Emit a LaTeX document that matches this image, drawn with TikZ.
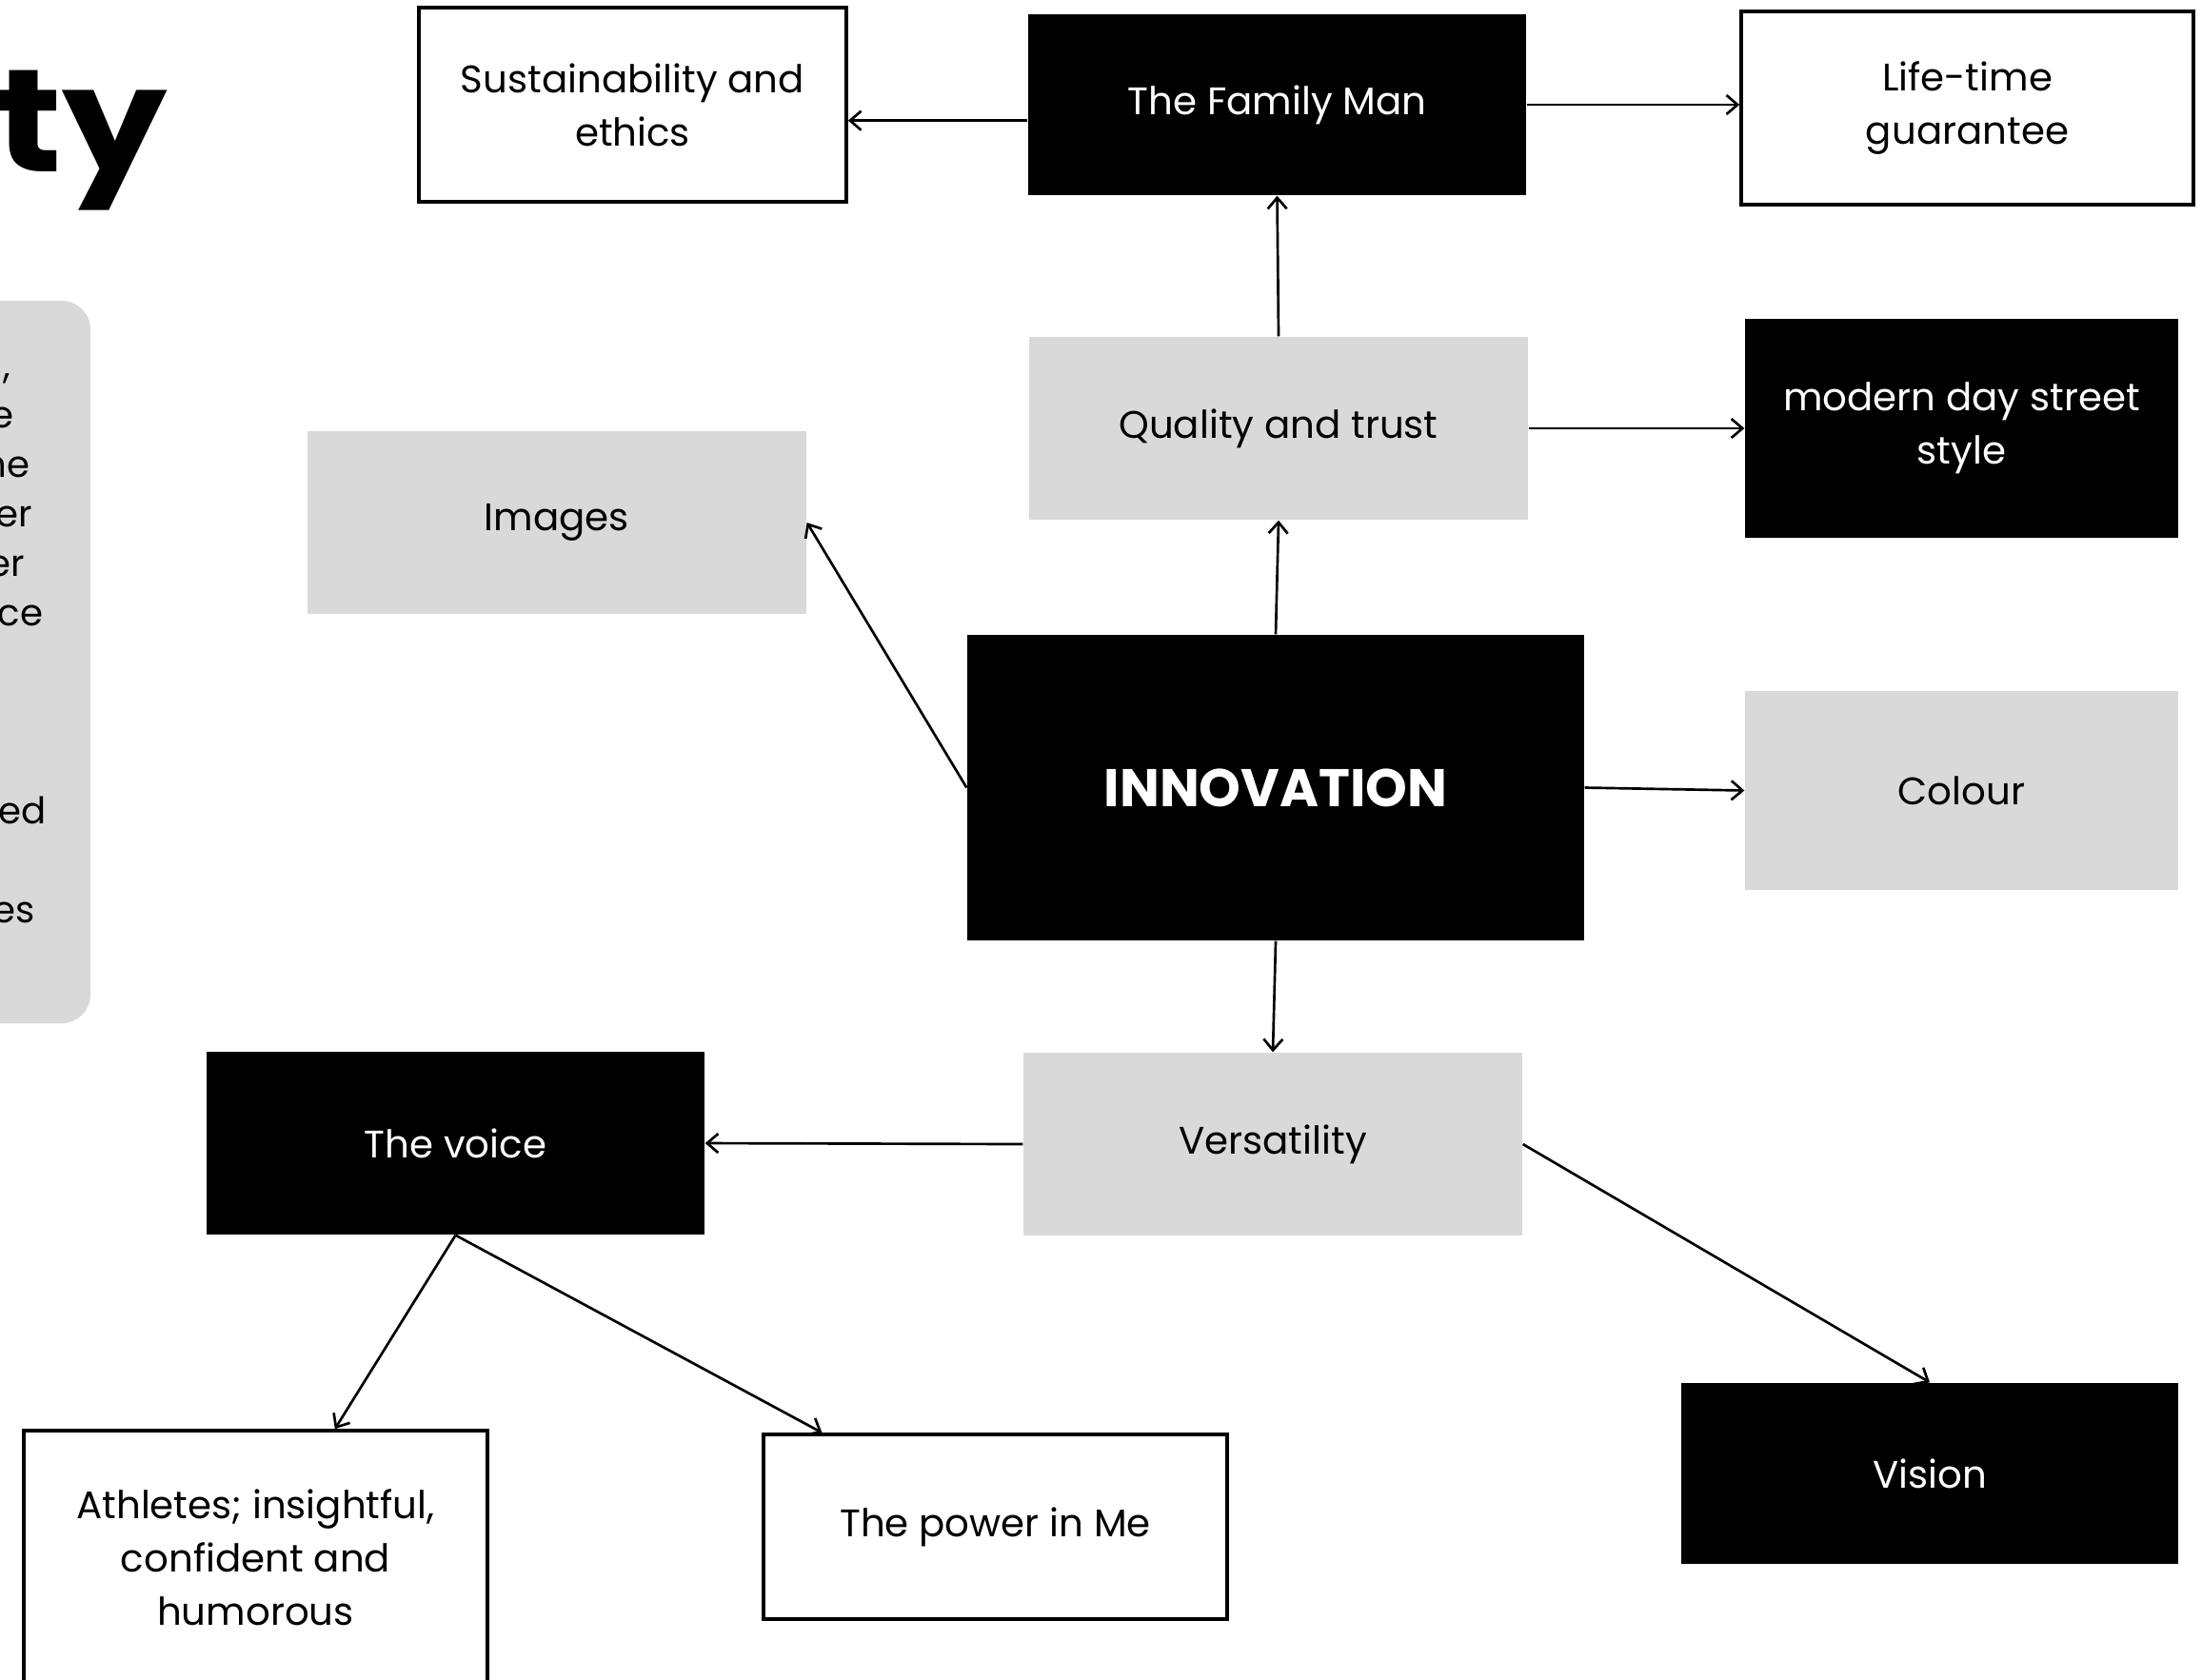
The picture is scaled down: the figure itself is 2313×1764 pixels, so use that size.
\documentclass[tikz,border=0pt]{standalone}
\usepackage{fontspec}
\setmainfont{Poppins}
\usetikzlibrary{arrows.meta}

\definecolor{boxgrey}{RGB}{217,217,217}

\tikzset{
  base/.style={inner sep=0pt, align=center, font=\fontsize{12.1}{16.8}\selectfont},
  wbox/.style={base, draw=black, line width=1.1pt, fill=white},
  bbox/.style={base, fill=black, text=white},
  gbox/.style={base, fill=boxgrey},
  conn/.style={line width=0.8pt, -{Straight Barb[length=3.5pt,width=6pt,line width=0.8pt]}},
  frag/.style={inner sep=0pt, anchor=base east, font=\fontsize{11.6}{16.8}\selectfont}
}

\begin{document}
\begin{tikzpicture}[x=0.3pt,y=0.3pt,yscale=-1,xscale=1]
\useasboundingbox (0,0) rectangle (2313,1764);

% Title (cut at the left edge)
\node [inner sep=0pt, anchor=base east, font=\fontsize{46}{50}\selectfont\bfseries] (title) at (177,180) {\scalebox{1.14}[1]{ty}};

% Side panel (cut at the left edge)
\fill [boxgrey, rounded corners=9pt] (-200,316) rectangle (95,1075);
\node [frag] (f1) at (12,397) {,};
\node [frag] (f2) at (15,449) {e};
\node [frag] (f3) at (32,501) {ne};
\node [frag] (f4) at (35,553) {er};
\node [frag] (f5) at (27,605) {er};
\node [frag] (f6) at (46,657) {ce};
\node [frag] (f7) at (49,865) {ed};
\node [frag] (f8) at (37,969) {es};

% Shapes: top row
\node [wbox, minimum width=134.7pt, minimum height=61.2pt] (sust) at (664.5,110) {Sustainability and\\ethics};
\node [bbox, minimum width=156.9pt, minimum height=57pt] (family) at (1341.5,110) {\raisebox{-1.2pt}{The Family Man}};
\node [wbox, minimum width=142.5pt, minimum height=60.9pt] (life) at (2066.5,113.5) {Life-time\\guarantee};

% Shapes: second row
\node [gbox, minimum width=157.2pt, minimum height=57.6pt] (quality) at (1343,450) {Quality and trust};
\node [bbox, minimum width=136.5pt, minimum height=69pt] (street) at (2060.5,450) {modern day street\\style};
\node [gbox, minimum width=157.2pt, minimum height=57.6pt] (images) at (585,549) {Images};

% Shapes: centre
\node [bbox, minimum width=194.4pt, minimum height=96.3pt, font=\fontsize{16.7}{20}\selectfont\bfseries] (innov) at (1340,827.5) {INNOVATION};
\node [gbox, minimum width=136.5pt, minimum height=62.7pt] (colour) at (2060.5,830.5) {Colour};

% Shapes: lower part
\node [gbox, minimum width=157.2pt, minimum height=57.6pt] (versat) at (1337,1202) {Versatility};
\node [bbox, minimum width=156.9pt, minimum height=57.6pt] (voice) at (478.5,1201) {The voice};
\node [wbox, minimum width=146.1pt, minimum height=79.8pt] (athletes) at (268.5,1636) {Athletes; insightful,\\confident and\\humorous};
\node [wbox, minimum width=146.1pt, minimum height=58.2pt] (power) at (1045.5,1604) {The power in Me};
\node [bbox, minimum width=156.6pt, minimum height=57pt] (vision) at (2027,1548) {Vision};

% Straight Lines
\draw [conn] ([yshift=5pt]family.west) -- ([yshift=5pt]family.west -| sust.east);
\draw [conn] (family.east) -- (family.east -| life.west);
\draw [conn] (quality.north) -- (family.south);
\draw [conn] (quality.east) -- (quality.east -| street.west);
\draw [conn] (innov.north) -- (quality.south);
\draw [conn] (innov.west) -- (images.east);
\draw [conn] (innov.east) -- (colour.west);
\draw [conn] (innov.south) -- (versat.north);
\draw [conn] (versat.west) -- (voice.east);
\draw [conn] (versat.east) -- (vision.north);
\draw [conn] (voice.south) -- ([xshift=25pt]athletes.north);
\draw [conn] (voice.south) -- ([xshift=-54.6pt]power.north);

\end{tikzpicture}
\end{document}
